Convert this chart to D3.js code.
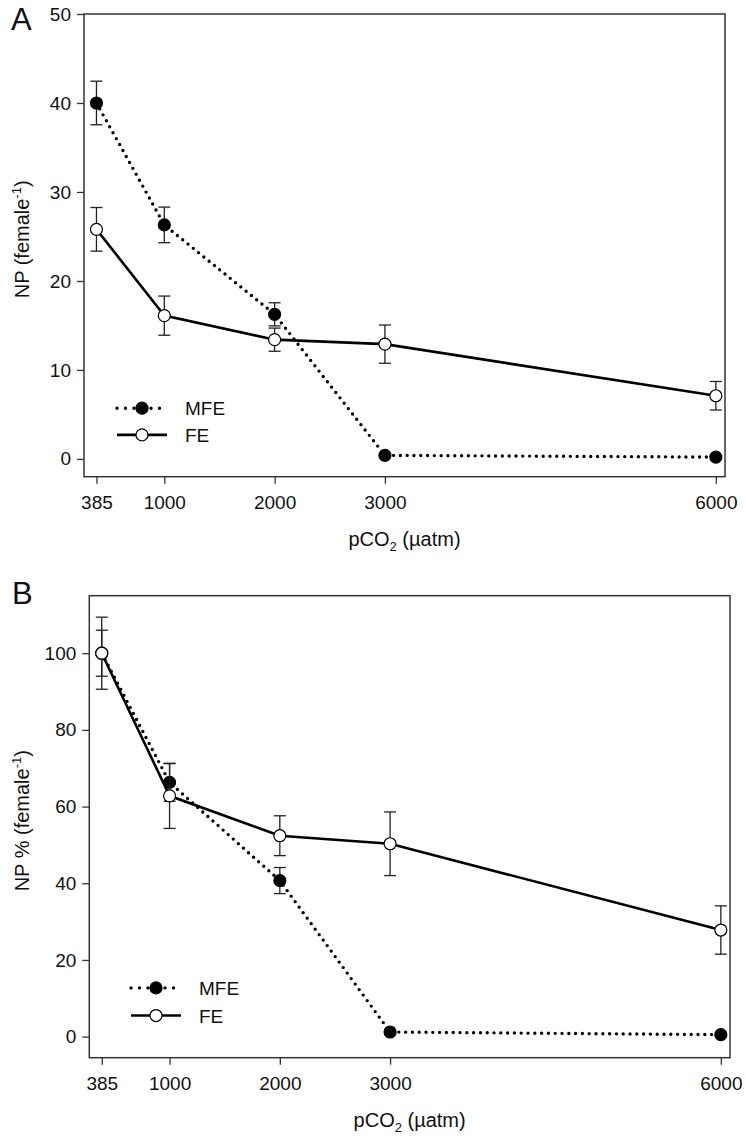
<!doctype html>
<html>
<head>
<meta charset="utf-8" />
<title>NP vs pCO2</title>
<script src="https://cdnjs.cloudflare.com/ajax/libs/d3/7.8.5/d3.min.js"></script>
<style>
    body { margin: 0; background: #fff; }
    svg text { font-family: "Liberation Sans", Arial, sans-serif; fill: #111; }
</style>
</head>
<body>
<div id="chart"></div>
<script>
    // pCO2 levels (uatm) and tick labels
    var pco2 = [385, 1000, 2000, 3000, 6000];
    var xTickLabels = ['385', '1000', '2000', '3000', '6000'];

    // panel A: NP (female-1), mean and error
    var mfeA = [40.0, 26.3, 16.25, 0.4, 0.2];
    var mfeAErr = [2.45, 2.0, 1.3, 0, 0];
    var feA = [25.8, 16.1, 13.4, 12.9, 7.1];
    var feAErr = [2.45, 2.2, 1.3, 2.15, 1.6];
    var yTicksA = [0, 10, 20, 30, 40, 50];

    // panel B: NP % (female-1)
    var mfeB = [100, 66.3, 40.7, 1.2, 0.5];
    var mfeBErr = [6.0, 4.9, 3.4, 0, 0];
    var feB = [100, 62.8, 52.4, 50.3, 27.8];
    var feBErr = [9.4, 8.5, 5.2, 8.3, 6.3];
    var yTicksB = [0, 20, 40, 60, 80, 100];

    var svg = d3.select('#chart')
        .append('svg')
            .attr('width', 746)
            .attr('height', 1139);

    function drawSeries(g, x, y, vals, errs, dotted) {
        var line = d3.line()
            .x(function (d, i) { return x(pco2[i]); })
            .y(function (d) { return y(d); });
        g.append('path')
            .datum(vals)
            .attr('d', line)
            .style('fill', 'none')
            .style('stroke', '#000')
            .style('stroke-width', dotted ? 3.4 : 2.6)
            .style('stroke-dasharray', dotted ? '0,6.8' : null)
            .style('stroke-linecap', dotted ? 'round' : 'butt');

        var idx = d3.range(vals.length).filter(function (i) { return errs[i] > 0; });
        var eb = g.append('g').selectAll('g').data(idx).enter().append('g')
            .style('stroke', '#222')
            .style('stroke-width', 1.3);
        eb.append('line')
            .attr('x1', function (i) { return x(pco2[i]); })
            .attr('x2', function (i) { return x(pco2[i]); })
            .attr('y1', function (i) { return y(vals[i] + errs[i]); })
            .attr('y2', function (i) { return y(vals[i] - errs[i]); });
        [1, -1].forEach(function (s) {
            eb.append('line')
                .attr('x1', function (i) { return x(pco2[i]) - 6; })
                .attr('x2', function (i) { return x(pco2[i]) + 6; })
                .attr('y1', function (i) { return y(vals[i] + s * errs[i]); })
                .attr('y2', function (i) { return y(vals[i] + s * errs[i]); });
        });

        g.append('g').selectAll('circle').data(vals).enter().append('circle')
            .attr('cx', function (d, i) { return x(pco2[i]); })
            .attr('cy', function (d) { return y(d); })
            .attr('r', 6)
            .style('fill', dotted ? '#000' : '#fff')
            .style('stroke', '#000')
            .style('stroke-width', 1.2);
    }

    function legendRow(g, x0, x1, cy, label, dotted) {
        g.append('line')
            .attr('x1', x0).attr('x2', x1).attr('y1', cy).attr('y2', cy)
            .style('stroke', '#000')
            .style('stroke-width', dotted ? 3.4 : 2.6)
            .style('stroke-dasharray', dotted ? '0,8.5' : null)
            .style('stroke-linecap', dotted ? 'round' : 'butt');
        g.append('circle')
            .attr('cx', (x0 + x1) / 2).attr('cy', cy).attr('r', 6)
            .style('fill', dotted ? '#000' : '#fff')
            .style('stroke', '#000')
            .style('stroke-width', 1.2);
        g.append('text')
            .attr('x', x1 + 18).attr('y', cy + 7)
            .style('font-size', '19px')
            .text(label);
    }

    function drawPanel(p) {
        var x = d3.scaleLinear().domain([272, 6083]).range([p.left, p.right]);
        var y = d3.scaleLinear().domain(p.yDomain).range([p.bottom, p.top]);
        var g = svg.append('g');

        var ya = g.append('g')
            .attr('transform', 'translate(' + p.left + ',0)')
            .call(d3.axisLeft(y).tickValues(p.yTicks).tickSize(7).tickPadding(6));
        var xa = g.append('g')
            .attr('transform', 'translate(0,' + p.bottom + ')')
            .call(d3.axisBottom(x).tickValues(pco2)
                .tickFormat(function (d, i) { return xTickLabels[i]; })
                .tickSize(7).tickPadding(12));
        [ya, xa].forEach(function (a) {
            a.attr('font-family', null).attr('font-size', null);
            a.select('.domain').remove();
            a.selectAll('line').style('stroke', '#333').style('stroke-width', 1.3);
            a.selectAll('text').style('font-size', '19px');
        });

        g.append('rect')
            .attr('x', p.left).attr('y', p.top)
            .attr('width', p.right - p.left).attr('height', p.bottom - p.top)
            .style('fill', 'none')
            .style('stroke', '#333')
            .style('stroke-width', 1.5);

        // MFE under FE, as in the original
        drawSeries(g, x, y, p.mfe, p.mfeErr, true);
        drawSeries(g, x, y, p.fe, p.feErr, false);

        legendRow(g, p.legX, p.legX + 50, y(p.legY[0]), 'MFE', true);
        legendRow(g, p.legX, p.legX + 50, y(p.legY[1]), 'FE', false);

        // panel letter
        g.append('text')
            .attr('x', p.letterX).attr('y', p.letterY)
            .style('font-size', '31px')
            .text(p.letter);

        // x title
        var xt = g.append('text')
            .attr('x', (p.left + p.right) / 2)
            .attr('y', p.xTitleY)
            .attr('text-anchor', 'middle')
            .style('font-size', '20px');
        xt.append('tspan').text('pCO');
        xt.append('tspan').attr('dy', 5).style('font-size', '13px').text('2');
        xt.append('tspan').attr('dy', -5).text(' (µatm)');

        // y title
        var yt = g.append('text')
            .attr('transform', 'translate(29,' + ((p.top + p.bottom) / 2 - 6) + ') rotate(-90)')
            .attr('text-anchor', 'middle')
            .style('font-size', '20px');
        yt.append('tspan').text(p.yTitle + ' (female');
        yt.append('tspan').attr('dy', -8).style('font-size', '13px').text('-1');
        yt.append('tspan').attr('dy', 8).text(')');
    }

    drawPanel({
        left: 84, right: 725, top: 14, bottom: 476.7,
        yDomain: [-2, 50], yTicks: yTicksA,
        mfe: mfeA, mfeErr: mfeAErr, fe: feA, feErr: feAErr,
        legX: 117, legY: [5.7, 2.7],
        letter: 'A', letterX: 11, letterY: 30,
        xTitleY: 546, yTitle: 'NP'
    });

    drawPanel({
        left: 89.3, right: 730, top: 595.7, bottom: 1057.7,
        yDomain: [-5.5, 115], yTicks: yTicksB,
        mfe: mfeB, mfeErr: mfeBErr, fe: feB, feErr: feBErr,
        legX: 131, legY: [12.7, 5.5],
        letter: 'B', letterX: 12, letterY: 604,
        xTitleY: 1127, yTitle: 'NP %'
    });
</script>
</body>
</html>
